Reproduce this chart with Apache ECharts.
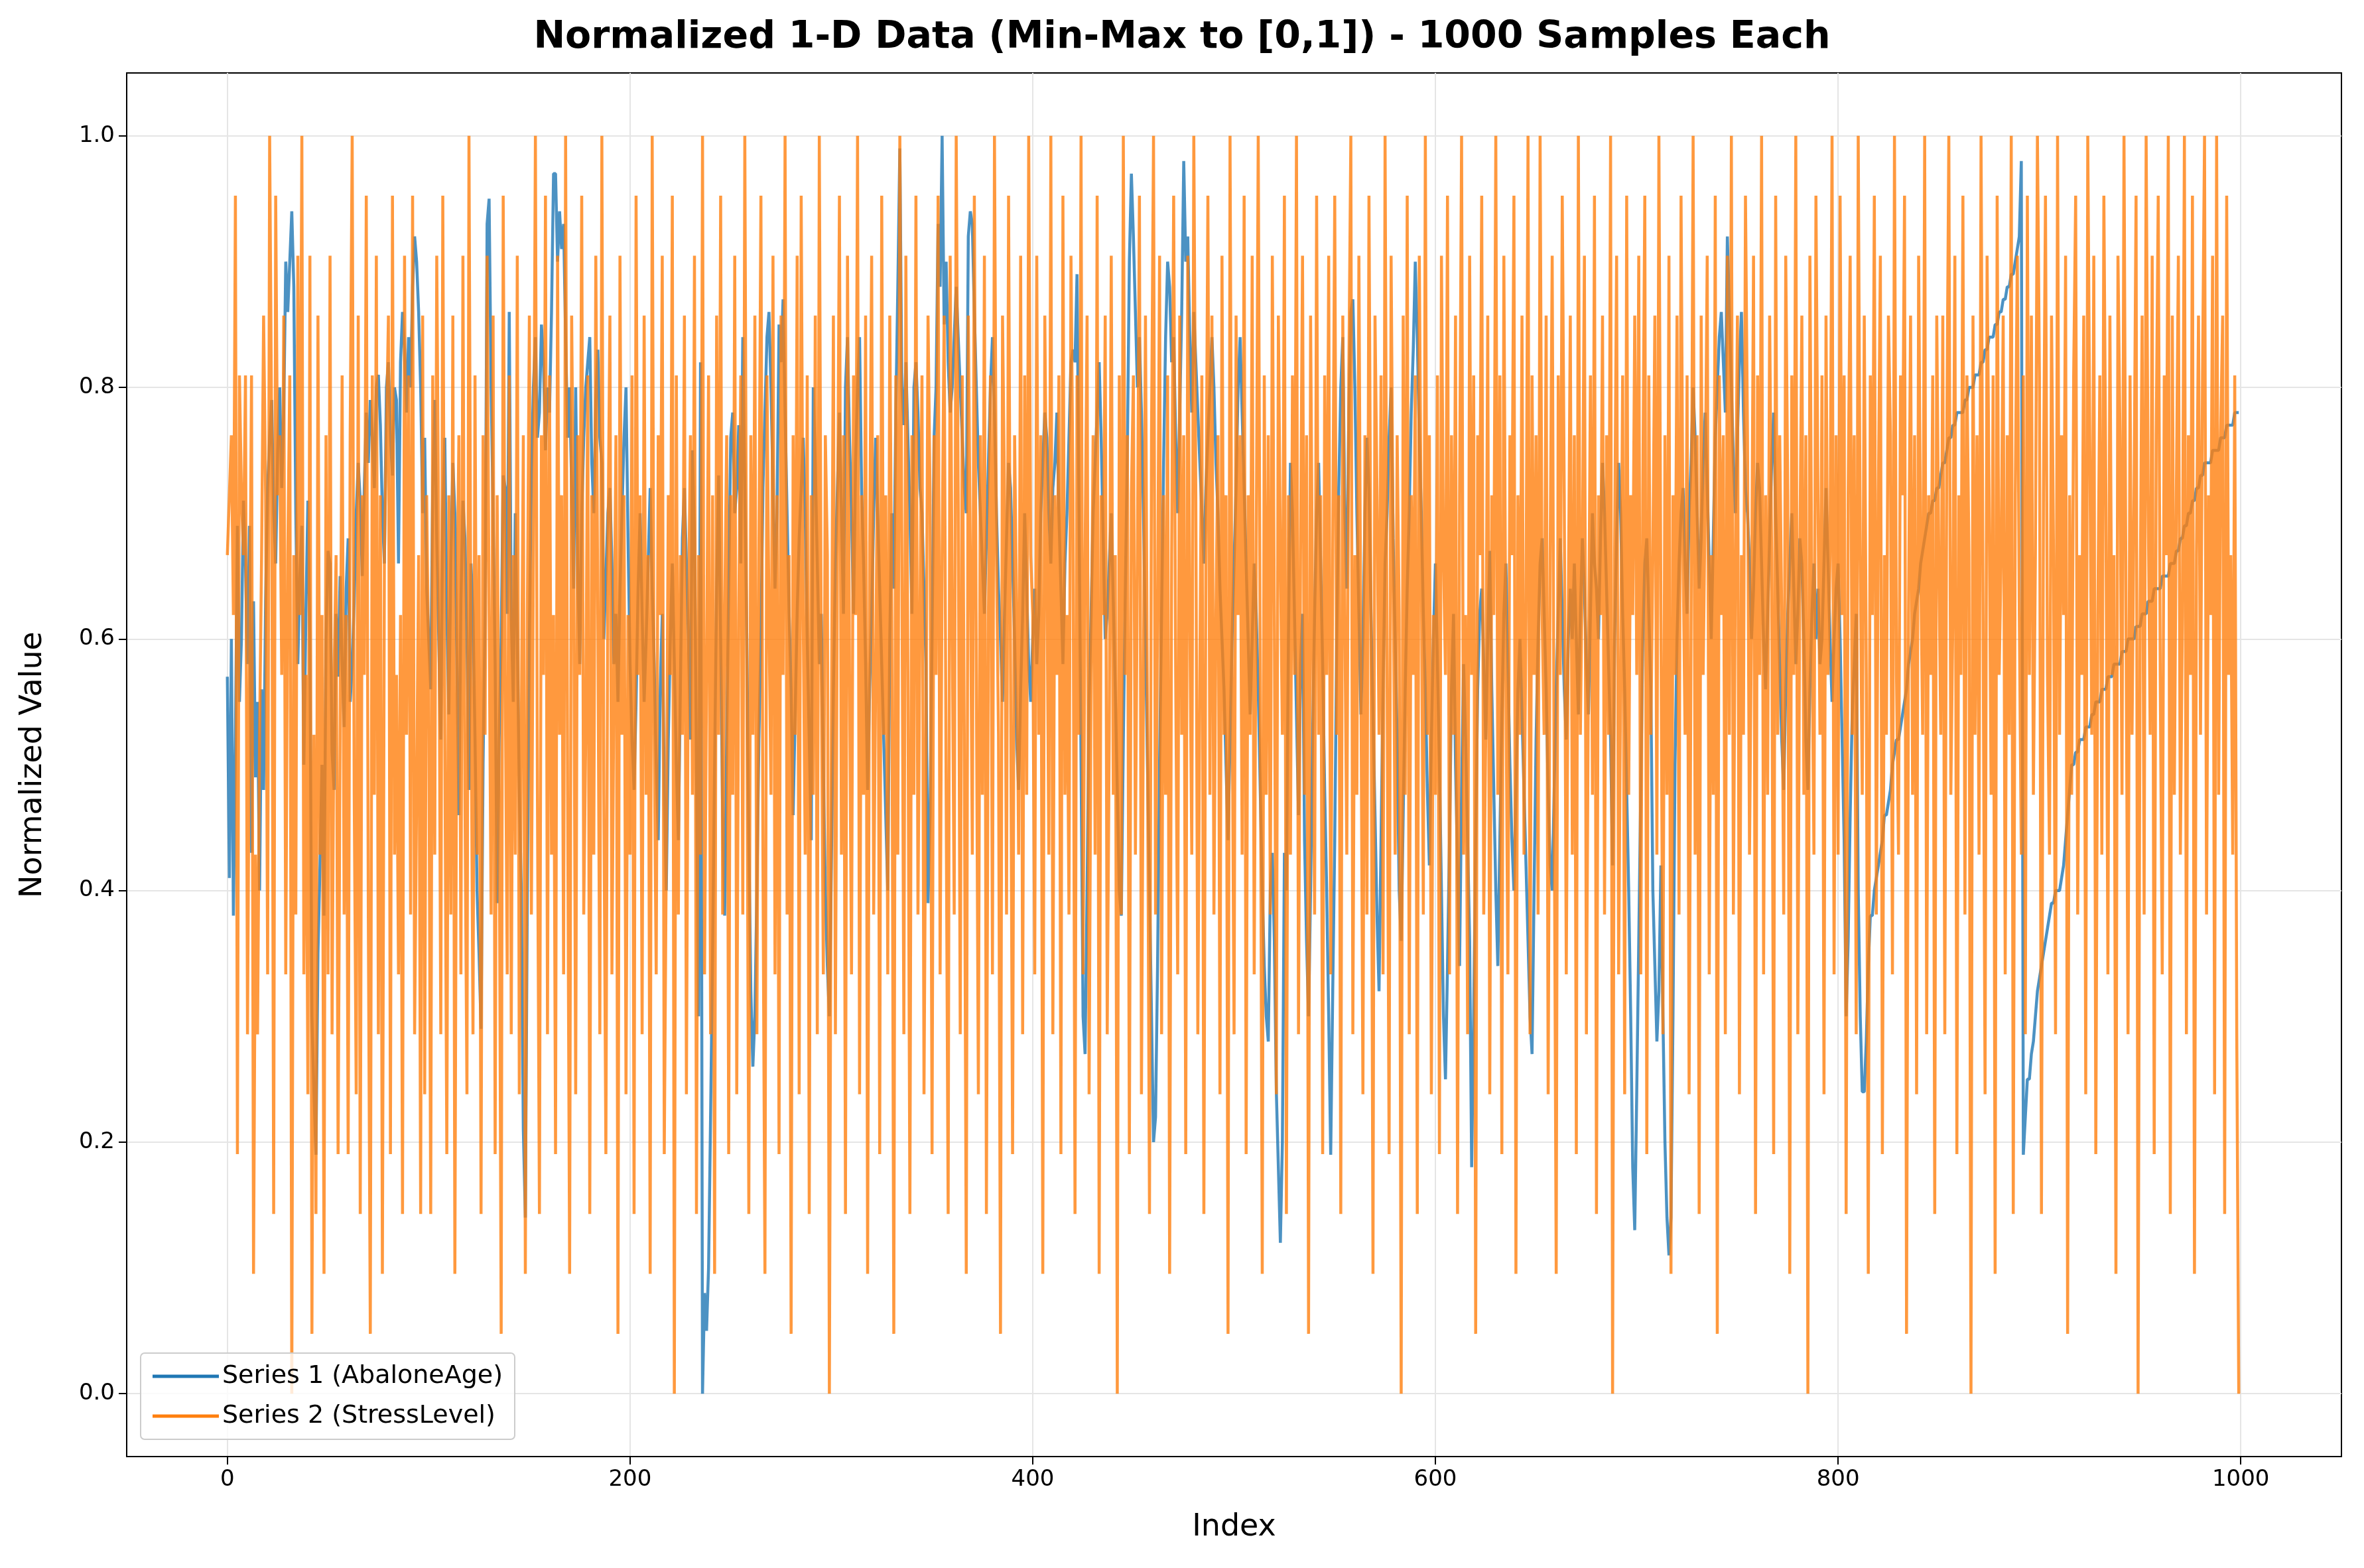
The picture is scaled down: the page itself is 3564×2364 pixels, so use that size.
<!DOCTYPE html>
<html>
<head>
<meta charset="utf-8">
<script src="https://cdn.jsdelivr.net/npm/echarts@6/dist/echarts.min.js"></script>
<style>
  html, body { margin: 0; padding: 0; background: #fff; }
  #chart { width: 3564px; height: 2364px; }
</style>
</head>
<body>
<div id="chart"></div>
<script>
// Series 1 (AbaloneAge), normalized value x100, index 0..999
const abaloneAge = [
  57,41,60,38,52,69,55,60,71,66, 58,69,43,63,49,55,40,56,48,63, 72,76,79,70,66,75,80,72,78,90, 86,90,94,88,70,58,65,69,50,62,
  71,60,30,24,19,35,42,50,38,60, 67,66,51,48,62,57,65,58,53,64, 68,55,58,63,70,74,71,65,72,78, 74,79,76,72,80,81,77,70,66,80,
  82,76,73,80,79,66,82,86,83,78, 84,80,88,92,90,86,80,70,76,64,
  60,56,72,79,68,60,52,70,76,62, 54,66,74,70,58,46,63,71,68,60, 48,66,62,52,40,35,29,50,62,93, 95,80,70,58,39,52,60,73,72,62,
  86,62,55,70,60,48,40,21,14,40, 60,73,80,84,76,78,85,82,75,80, 78,86,97,97,90,94,91,93,84,76, 80,72,64,80,66,58,70,76,80,82,
  84,74,70,79,83,76,74,60,65,70, 72,66,58,62,55,64,70,76,80,68,
  58,52,48,55,64,70,62,55,60,66, 72,64,58,50,44,56,62,48,40,52, 60,66,58,50,44,56,68,72,66,60, 52,75,68,50,30,82,0,8,5,10,
  22,35,50,64,73,60,46,38,52,64, 76,78,70,72,77,66,84,72,60,44, 32,26,30,40,52,60,72,78,84,86, 80,72,64,70,85,82,87,78,70,62,
  56,46,54,62,68,72,76,70,60,52, 44,80,74,66,58,62,50,40,34,30,
  42,56,66,72,78,70,62,80,84,76, 70,62,74,80,84,72,66,58,48,56, 62,70,76,70,64,58,52,46,40,60, 70,64,78,88,99,80,77,82,76,70,
  62,80,82,78,72,70,64,58,39,46, 60,76,80,93,88,100,85,90,82,78, 80,84,88,84,80,76,72,70,92,94, 93,86,80,74,70,66,62,68,74,80,
  84,78,70,64,60,55,62,68,74,72, 66,60,52,48,56,62,70,64,58,55,
  60,64,58,62,70,74,78,76,70,66, 72,74,78,70,64,58,66,70,76,82, 83,82,89,70,50,30,27,40,55,62, 70,74,78,82,76,68,60,62,66,70,
  63,56,48,40,38,52,64,75,90,97, 92,86,80,84,78,70,60,50,40,30, 20,22,34,50,62,74,84,90,88,82, 84,76,70,78,86,98,90,92,84,78,
  86,82,78,74,70,66,72,76,80,84, 80,74,70,64,60,56,50,44,52,60,
  66,72,80,84,78,72,66,60,54,60, 66,62,56,48,40,34,30,28,40,43, 36,24,18,12,20,43,40,60,74,70, 62,54,46,58,62,44,36,30,40,52,
  62,70,74,66,58,48,40,30,19,32, 44,60,72,80,84,70,64,78,86,87, 80,70,62,54,60,70,76,72,62,54, 46,38,32,44,56,66,70,76,80,68,
  60,52,40,36,46,56,64,70,78,83, 90,84,76,70,62,56,48,42,52,60,
  66,58,50,40,30,25,34,44,56,62, 50,42,34,48,58,52,44,36,18,30, 44,56,62,64,58,52,60,67,56,48, 40,34,44,54,62,66,58,50,44,40,
  48,56,60,54,48,42,36,30,27,40, 52,60,66,68,62,56,48,42,40,48, 56,62,68,62,56,52,60,64,60,66, 60,54,62,68,64,58,54,62,70,66,
  64,60,68,74,70,64,58,52,42,60, 68,74,70,62,56,48,40,30,18,13,
  24,36,48,60,66,68,62,56,40,34, 28,32,42,30,20,14,11,14,30,50, 60,66,70,72,66,62,70,74,80,76, 70,64,68,74,78,72,66,60,68,76,
  80,84,86,82,78,92,86,80,74,70, 76,82,86,78,72,70,66,60,64,70, 74,72,66,60,56,62,68,74,78,70, 64,58,52,48,56,62,66,70,64,58,
  62,68,66,60,52,48,56,62,66,60, 64,58,60,66,72,66,60,55,60,64,
  66,60,52,44,30,36,46,54,58,62, 40,30,24,24,28,34,38,38,40,41, 42,43,44,46,46,47,48,50,51,52, 52,53,54,55,56,58,59,60,62,63,
  64,66,67,68,69,70,70,71,71,72, 72,73,74,74,75,76,76,77,77,78, 78,78,78,79,79,80,80,80,81,81, 81,82,82,83,83,84,84,84,85,85,
  86,86,87,87,88,88,89,89,90,91, 92,98,19,22,25,25,27,28,30,32,
  33,34,35,36,37,38,39,39,40,40, 40,41,42,44,46,48,50,50,51,51, 52,52,52,53,53,53,54,54,55,55, 55,56,56,56,57,57,57,58,58,58,
  58,59,59,59,60,60,60,60,61,61, 61,62,62,62,63,63,63,64,64,64, 64,65,65,65,65,66,66,66,67,67, 68,68,69,69,70,70,71,71,72,72,
  73,73,74,74,74,74,75,75,75,75, 76,76,76,77,77,77,77,78,78,78
];

// Series 2 (StressLevel), levels 0..21 (normalized value = level / 21)
const stressLevel = [
  14,15,16,13,20,4,17,15,14,17,6,12,17,2,9,6,11,14,18,15,7,21,16,3,20,15,16,12,18,7,14,17,0,14,8,19,13,21,7,12,5,19,1,11,3,18,9,13,2,16,
  7,19,6,12,14,4,11,17,8,13,4,16,21,10,5,18,3,15,12,20,8,1,17,10,19,6,15,2,14,16,18,4,20,9,12,7,13,3,19,11,17,8,20,6,10,14,3,18,5,15,
  12,3,17,9,19,14,6,20,11,4,15,8,18,2,13,16,7,19,10,5,21,12,6,17,9,14,3,16,11,19,13,8,18,4,15,10,1,20,12,7,17,6,14,9,19,5,11,16,2,13,
  18,8,14,21,10,3,16,12,20,6,17,9,13,4,19,11,15,7,21,10,2,18,14,5,16,12,20,8,11,17,3,15,9,19,13,6,21,10,4,14,18,7,12,16,1,19,11,15,5,13,
  9,17,3,20,12,15,6,18,10,14,2,21,11,7,16,13,19,4,9,15,12,20,0,17,8,14,11,18,5,13,16,10,19,3,14,9,21,7,12,17,6,15,2,18,11,20,8,13,16,4,
  15,10,19,5,13,17,8,21,12,3,16,11,18,6,14,20,9,2,17,13,10,19,7,15,4,18,12,21,8,14,1,16,11,19,5,20,13,9,17,3,15,10,18,6,21,12,7,16,14,0,
  11,18,6,14,20,9,16,3,19,12,7,17,13,21,5,15,10,18,2,14,19,8,12,16,4,20,11,15,7,18,13,1,17,9,21,14,6,19,12,3,16,10,20,8,13,17,5,11,18,15,
  4,16,12,20,7,14,18,10,3,19,13,8,21,15,6,17,11,2,18,14,9,20,12,5,16,10,19,3,13,17,7,21,14,11,1,18,15,8,20,12,4,16,13,9,19,6,17,10,21,14,
  13,7,19,11,16,2,18,14,9,21,6,15,12,17,4,20,10,13,8,19,15,3,17,11,21,7,14,18,5,12,16,9,20,2,15,13,18,6,11,19,10,14,0,17,8,21,12,16,4,15,
  17,9,14,20,5,12,18,11,3,16,21,8,13,19,6,15,10,17,2,14,20,12,7,18,11,16,4,19,13,9,21,15,6,12,17,3,14,20,10,18,8,13,16,5,19,11,15,1,21,12,
  6,18,13,16,9,20,4,15,11,19,7,14,21,12,2,17,10,16,8,19,13,5,18,14,11,20,3,15,9,17,12,21,6,14,19,10,16,1,18,13,8,20,11,15,4,17,12,19,7,14,
  20,11,15,3,18,13,9,17,21,6,14,10,19,12,5,16,8,20,13,2,18,15,11,17,7,21,12,4,19,14,9,16,13,0,18,10,20,6,15,12,17,3,19,14,8,21,11,16,5,13,
  10,17,4,19,14,12,20,7,16,11,18,3,15,21,9,13,6,19,12,17,1,16,14,20,8,11,18,5,15,13,21,10,17,4,19,12,7,16,14,20,2,15,11,18,9,13,21,6,17,12,
  16,8,21,13,11,18,5,14,19,10,2,17,12,20,15,7,13,18,9,16,4,21,11,14,19,6,12,17,10,20,3,15,13,18,8,16,11,21,0,14,19,7,12,17,5,20,10,15,13,18,
  12,19,7,15,20,4,17,11,14,18,9,21,13,6,16,10,19,2,15,12,18,8,20,14,11,17,5,13,21,9,16,3,18,12,15,19,7,14,10,20,1,17,13,16,6,19,11,21,8,14,
  18,5,14,11,20,16,9,13,19,3,17,12,21,7,15,10,18,14,4,20,11,16,13,8,19,15,2,17,12,21,6,14,18,10,16,0,19,13,9,20,15,11,17,5,18,12,14,21,7,16,
  9,20,13,17,3,15,19,11,16,6,21,14,10,18,12,2,17,13,20,8,15,19,4,14,11,18,16,7,21,12,9,17,15,20,1,13,18,10,16,5,19,14,11,21,6,15,12,17,3,18,
  14,11,18,6,16,21,10,13,19,4,15,12,20,8,17,14,0,18,11,16,9,21,13,5,19,15,10,17,2,20,12,14,18,7,16,11,21,3,15,19,13,9,17,6,20,12,18,10,14,21,
  17,3,15,20,12,9,18,14,6,21,11,16,13,19,1,15,10,17,20,8,14,12,18,5,21,16,11,19,4,13,17,9,20,15,7,18,12,14,2,19,16,10,21,13,6,17,11,15,20,0,
  13,18,8,21,15,11,19,4,16,20,12,7,17,14,21,3,18,10,15,19,9,13,21,6,16,12,20,2,14,18,11,17,21,8,15,13,19,5,21,10,16,18,3,20,12,14,9,17,6,0
];

const xTicks = [0, 200, 400, 600, 800, 1000];
const yTicks = [0, 0.2, 0.4, 0.6, 0.8, 1.0];

const s1 = abaloneAge.map((v, i) => [i, v / 100]);
const s2 = stressLevel.map((v, i) => [i, v / 21]);

const chart = echarts.init(document.getElementById('chart'), null, { renderer: 'canvas' });
const font = 'DejaVu Sans';

chart.setOption({
  backgroundColor: '#fff',
  animation: false,
  title: {
    text: 'Normalized 1-D Data (Min-Max to [0,1]) - 1000 Samples Each',
    left: 'center', top: 24,
    textStyle: { fontFamily: font, fontWeight: 'bold', fontSize: 57, color: '#000' }
  },
  legend: {
    orient: 'vertical', left: 212, top: 2040,
    itemWidth: 100, itemHeight: 5, itemGap: 22,
    padding: [16, 18, 16, 18],
    borderColor: '#ccc', borderWidth: 2, borderRadius: 6,
    backgroundColor: 'rgba(255,255,255,0.8)',
    textStyle: { fontFamily: font, fontSize: 38, color: '#000' },
    icon: 'rect',
    data: ['Series 1 (AbaloneAge)', 'Series 2 (StressLevel)']
  },
  grid: { left: 191, right: 34, top: 110, bottom: 168, show: true, borderColor: '#000', borderWidth: 2 },
  xAxis: {
    type: 'value', min: -50, max: 1050,
    name: 'Index', nameLocation: 'middle', nameGap: 84,
    nameTextStyle: { fontFamily: font, fontSize: 46, color: '#000' },
    axisLine: { show: true, onZero: false, lineStyle: { color: '#000', width: 2 } },
    axisTick: { show: true, customValues: xTicks, length: 12, lineStyle: { color: '#000', width: 2 } },
    axisLabel: { customValues: xTicks, fontFamily: font, fontSize: 34, color: '#000', margin: 18,
      formatter: v => String(v) },
    splitLine: { show: true, lineStyle: { color: '#e5e5e5', width: 2 } }
  },
  yAxis: {
    type: 'value', min: -0.05, max: 1.05,
    name: 'Normalized Value', nameLocation: 'middle', nameGap: 118,
    nameTextStyle: { fontFamily: font, fontSize: 46, color: '#000' },
    axisLine: { show: true, onZero: false, lineStyle: { color: '#000', width: 2 } },
    axisTick: { show: true, customValues: yTicks, length: 12, lineStyle: { color: '#000', width: 2 } },
    axisLabel: { customValues: yTicks, fontFamily: font, fontSize: 34, color: '#000', margin: 18,
      formatter: v => v.toFixed(1) },
    splitLine: { show: true, lineStyle: { color: '#e5e5e5', width: 2 } }
  },
  series: [
    {
      name: 'Series 1 (AbaloneAge)', type: 'line', data: s1, showSymbol: false,
      lineStyle: { color: '#1f77b4', width: 4.5, opacity: 0.8 }, itemStyle: { color: '#1f77b4' }
    },
    {
      name: 'Series 2 (StressLevel)', type: 'line', data: s2, showSymbol: false,
      lineStyle: { color: '#ff7f0e', width: 4.5, opacity: 0.8 }, itemStyle: { color: '#ff7f0e' }
    }
  ]
});
</script>
</body>
</html>
